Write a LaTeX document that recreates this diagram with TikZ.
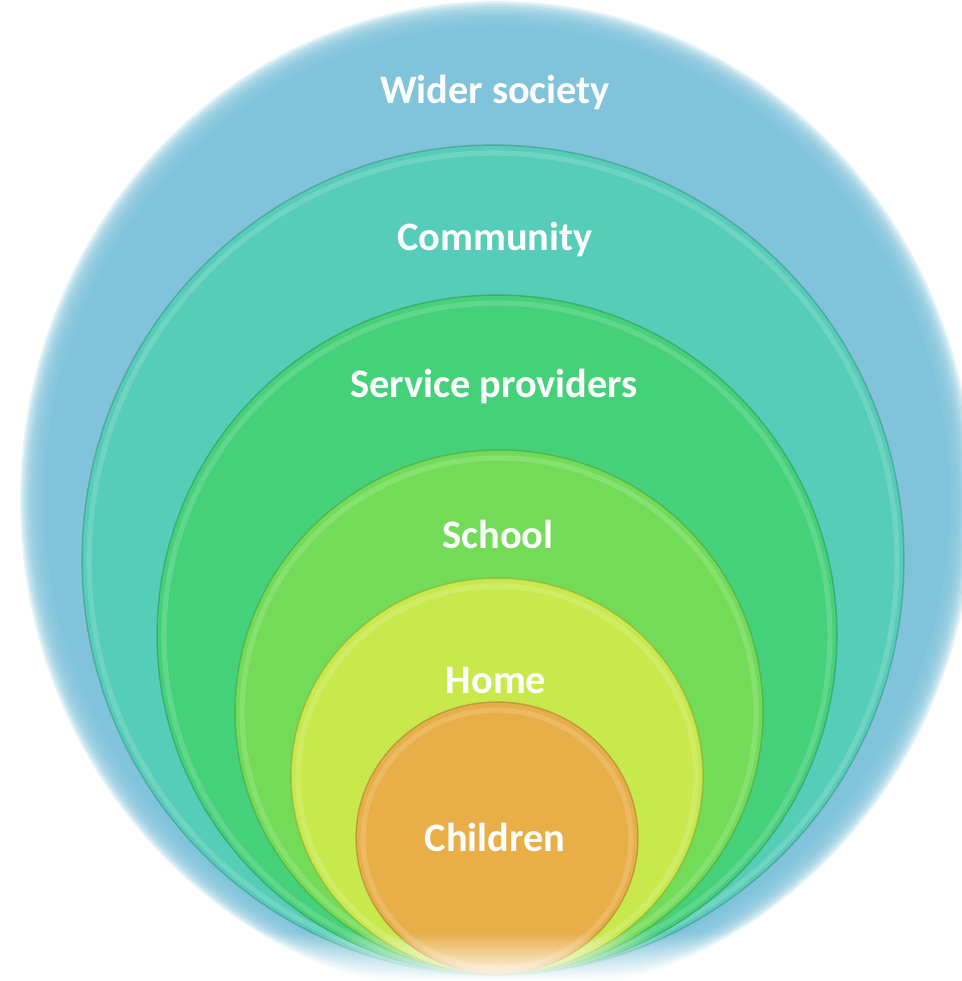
\documentclass[tikz,border=0pt]{standalone}
\usepackage{fontspec}
\setsansfont{Carlito}
\usetikzlibrary{shapes.geometric,fadings}

\definecolor{societyblue}{RGB}{128,195,218}
\definecolor{communityteal}{RGB}{86,205,184}
\definecolor{servicegreen}{RGB}{69,208,122}
\definecolor{schoolgreen}{RGB}{114,220,88}
\definecolor{homelime}{RGB}{200,232,76}
\definecolor{childorange}{RGB}{232,174,72}

\begin{document}
\begin{tikzpicture}[
    x=0.02cm, y=-0.02cm,
    ring/.style={ellipse,inner sep=0pt,outer sep=0pt,fill=#1,draw=#1!70!black,draw opacity=0.55,line width=0.8pt},
    gloss/.style={ellipse,inner sep=0pt,draw=#1!50!white,draw opacity=0.3,line width=3pt},
    rim/.style={ellipse,inner sep=0pt,outer sep=0pt,fill=societyblue,opacity=0.22},
    caption/.style={anchor=base,text=white,font=\sffamily\bfseries\fontsize{23}{27}\selectfont}
]
\useasboundingbox (0,0) rectangle (961,981);

% blurred edge of the outer ring
\foreach \g in {0,...,12}
  \node[rim,minimum width=18.6cm+0.08cm*(6-\g),minimum height=19.48cm+0.08cm*(6-\g)] at (497,500) {};
\node[ring=societyblue,draw=none,minimum width=18.1cm,minimum height=18.98cm] (wider) at (497,500) {};

% the rings, outside in
\node[ring=communityteal,minimum width=16.44cm,minimum height=16.6cm] (community) at (493,560) {};
\node[gloss=communityteal,minimum width=16.16cm,minimum height=16.32cm] at (493,561) {};
\node[ring=servicegreen,minimum width=13.6cm,minimum height=13.6cm] (service) at (497,635) {};
\node[gloss=servicegreen,minimum width=13.32cm,minimum height=13.32cm] at (497,636) {};
\node[ring=schoolgreen,minimum width=10.56cm,minimum height=10.48cm] (school) at (499,712) {};
\node[gloss=schoolgreen,minimum width=10.28cm,minimum height=10.2cm] at (499,713) {};
\node[ring=homelime,minimum width=8.24cm,minimum height=7.92cm] (home) at (497,776) {};
\node[gloss=homelime,minimum width=7.96cm,minimum height=7.64cm] at (497,777) {};
\node[ring=childorange,minimum width=5.64cm,minimum height=5.44cm] (children) at (497,838) {};
\node[gloss=childorange,minimum width=5.36cm,minimum height=5.16cm] at (497,839) {};

% fade the bottom into the page
\fill[white,path fading=north] (0,932) rectangle (961,981);

% labels
\node[caption] (widerlbl) at (495,103) {Wider society};
\node[caption] (communitylbl) at (495,250) {Community};
\node[caption] (servicelbl) at (494,397) {Service providers};
\node[caption] (schoollbl) at (498,548) {School};
\node[caption] (homelbl) at (496,693) {Home};
\node[caption] (childrenlbl) at (495,851) {Children};
\end{tikzpicture}
\end{document}
